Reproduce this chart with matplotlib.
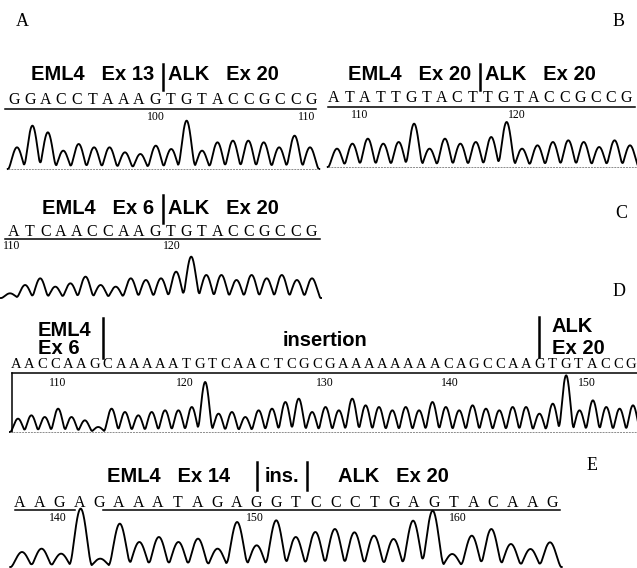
import matplotlib
matplotlib.use("Agg")
import matplotlib.pyplot as plt
import numpy as np

W, H = 637, 568

# sequences
seq_a = "GGACCTAAAGTGTACCGCCG"
seq_b = "ATATTGTACTTGTACCGCCG"
seq_c = "ATCAACCAAGTGTACCGCCG"
seq_d = "AACCAAGCAAAAATGTCAACTCGCGAAAAAAAACAGCCAAGTGTACCG"
seq_e = "AAGAGAAATAGAGGTCCCTGAGTACAAG"

# chromatogram peak heights (arbitrary units, ~3 units per pixel)
peaks_a = [65, 130, 110, 55, 75, 65, 65, 50, 45, 70, 60, 145, 55, 80, 85, 85, 80, 65, 100, 65]
peaks_b = [55, 70, 85, 70, 75, 130, 55, 85, 70, 75, 90, 135, 55, 65, 75, 80, 75, 60, 80, 65]
peaks_c = [14, 39, 59, 34, 44, 64, 39, 34, 59, 54, 59, 79, 124, 69, 69, 54, 69, 59, 69, 54, 59]
peaks_d = [40, 50, 45, 70, 45, 35, 15, 70, 60, 50, 60, 65, 65, 75, 150, 55, 60, 45, 65, 70, 90, 100, 60, 75,
           65, 100, 80, 75, 65, 75, 65, 90, 75, 65, 80, 70, 65, 75, 75, 55, 85, 170, 65, 95, 75, 70, 80]
peaks_e = [45, 55, 40, 175, 25, 130, 75, 90, 75, 85, 55, 135, 65, 140, 90, 105,
           114, 104, 94, 84, 139, 169, 39, 94, 114, 69, 54, 74]

# base numbering shown under each sequence
nums_a = ["100", "110"]
nums_b = ["110", "120"]
nums_c = ["110", "120"]
nums_d = ["110", "120", "130", "140", "150"]
nums_e = ["140", "150", "160"]

SANS = "Liberation Sans"
SERIF = "Liberation Serif"

fig = plt.figure(figsize=(W / 100, H / 100), dpi=100)
canvas = fig.add_axes([0, 0, 1, 1])
canvas.set_xlim(0, W)
canvas.set_ylim(H, 0)
canvas.axis("off")


def px_axes(x0, x1, y_top, y_bot):
    ax = fig.add_axes([x0 / W, 1 - y_bot / H, (x1 - x0) / W, (y_bot - y_top) / H])
    ax.patch.set_visible(False)
    ax.axis("off")
    return ax


def draw_trace(peaks, x_first, x_last, y_base, baseline=True, half=0.57):
    n = len(peaks)
    sp = (x_last - x_first) / (n - 1)
    ax = px_axes(x_first - sp * 0.6, x_last + sp * 0.6, y_base - 72, y_base + 2)
    ax.set_xlim(-0.6, n - 1 + 0.6)
    ax.set_ylim(-6, 216)
    t = np.linspace(-0.6, n - 1 + 0.6, 3000)
    y = np.zeros_like(t)
    for i, h in enumerate(peaks):
        d = np.abs(t - i)
        bump = np.where(d < half, np.cos(np.pi * np.minimum(d, half) / (2 * half)), 0.0) ** 1.5
        y += h * bump
    ax.plot(t, y, color="black", lw=1.35, clip_on=False)
    if baseline:
        ax.axhline(0, color="0.55", lw=0.7, ls=(0, (2, 1)))
    return ax


def draw_seq(seq, x_first, x_last, y, size=11.5):
    for x, ch in zip(np.linspace(x_first, x_last, len(seq)), seq):
        canvas.text(x, y, ch, fontsize=size, family=SERIF, ha="center", va="center")


def draw_nums(labels, xs, y):
    for lab, x in zip(labels, xs):
        canvas.text(x, y, lab, fontsize=8.5, family=SERIF, ha="center", va="center")


def hline(x0, x1, y, lw=1.1):
    canvas.plot([x0, x1], [y, y], color="black", lw=lw)


def vbar(x, y0, y1, lw=1.8):
    canvas.plot([x, x], [y0, y1], color="black", lw=lw)


def title(left, right, xbar, y, y0, y1):
    canvas.text(xbar - 9, y, left, fontsize=14.5, family=SANS, weight="bold", ha="right", va="center")
    canvas.text(xbar + 5, y, right, fontsize=14.5, family=SANS, weight="bold", ha="left", va="center")
    vbar(xbar, y0, y1)


# panel letters
for lab, x, y in [("A", 22, 22), ("B", 619, 22), ("C", 621, 213), ("D", 619, 292), ("E", 592, 465)]:
    canvas.text(x, y, lab, fontsize=13, family=SERIF, ha="center", va="center")

# ---- panel A
title("EML4   Ex 13", "ALK   Ex 20", 163, 75, 64, 90)
draw_seq(seq_a, 14, 311, 100)
hline(5, 316, 109)
draw_nums(nums_a, [156, 307], 117)
draw_trace(peaks_a, 17, 310, 169)

# ---- panel B
title("EML4   Ex 20", "ALK   Ex 20", 480, 75, 64, 90)
draw_seq(seq_b, 334, 626, 98)
hline(328, 635, 107)
draw_nums(nums_b, [360, 517], 115)
draw_trace(peaks_b, 337, 630, 167)

# ---- panel C
title("EML4   Ex 6", "ALK   Ex 20", 163, 208, 195, 223)
draw_seq(seq_c, 14, 311, 232)
hline(5, 320, 239)
draw_nums(nums_c, [12, 172], 246)
draw_trace(peaks_c, 10, 312, 298, baseline=False)

# ---- panel D
canvas.text(38, 330, "EML4", fontsize=14.5, family=SANS, weight="bold", ha="left", va="center")
canvas.text(38, 349, "Ex 6", fontsize=14.5, family=SANS, weight="bold", ha="left", va="center")
vbar(103, 318, 358)
canvas.text(325, 341, "insertion", fontsize=14.5, family=SANS, weight="bold", ha="center", va="center")
vbar(539, 317, 357)
canvas.text(552, 327, "ALK", fontsize=14.5, family=SANS, weight="bold", ha="left", va="center")
canvas.text(552, 348, "Ex 20", fontsize=14.5, family=SANS, weight="bold", ha="left", va="center")
draw_seq(seq_d, 16, 631, 365, size=10.5)
hline(12, 637, 373)
vbar(12, 373, 432, lw=1.1)
draw_nums(nums_d, [58, 185, 325, 450, 587], 383)
draw_trace(peaks_d, 18, 633, 432)

# ---- panel E
canvas.text(230, 477, "EML4   Ex 14", fontsize=14.5, family=SANS, weight="bold", ha="right", va="center")
vbar(257, 462, 490)
canvas.text(282, 477, "ins.", fontsize=14.5, family=SANS, weight="bold", ha="center", va="center")
vbar(307, 462, 490)
canvas.text(338, 477, "ALK   Ex 20", fontsize=14.5, family=SANS, weight="bold", ha="left", va="center")
draw_seq(seq_e, 20, 552, 503)
hline(15, 75, 510)
hline(103, 560, 510)
draw_nums(nums_e, [58, 255, 458], 518)
draw_trace(peaks_e, 22, 550, 567, baseline=False)

fig.savefig("out.png", dpi=100, facecolor="white")
